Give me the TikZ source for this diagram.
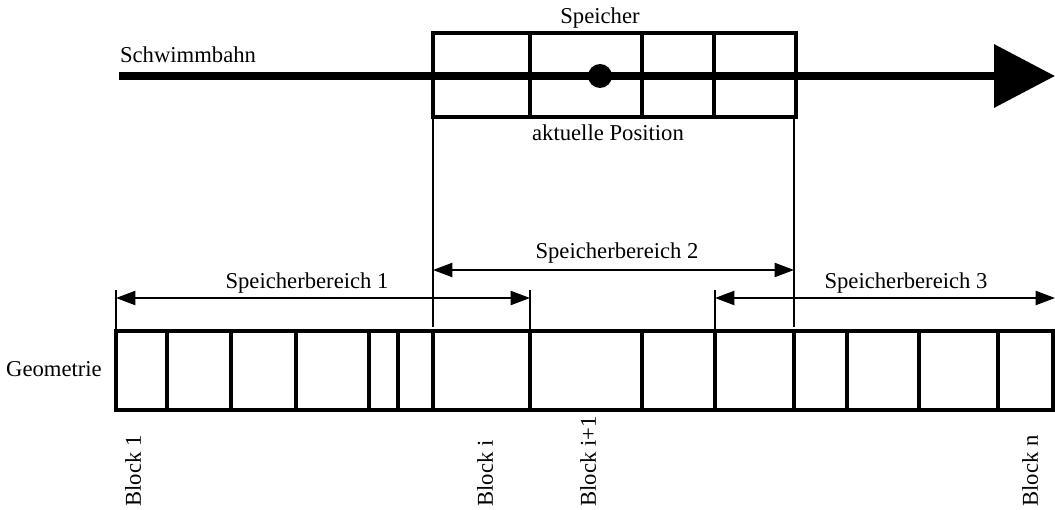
\documentclass[tikz,border=0pt]{standalone}
\usepackage{fontspec}
\setmainfont{Liberation Serif}
\usetikzlibrary{arrows.meta}

\begin{document}
\begin{tikzpicture}[x=0.02cm,y=-0.02cm,font=\fontsize{12.9}{15}\selectfont,
    thick box/.style={line width=2.3pt},
    thin line/.style={line width=1.1pt},
    dim/.style={thin line,{Triangle[length=11pt,width=8pt]}-{Triangle[length=11pt,width=8pt]}},
    blocklabel/.style={rotate=90,anchor=west,inner sep=0pt}]
  \useasboundingbox (0,0) rectangle (1055,510);
  % Schwimmbahn
  \coordinate (bahnA) at (119,76);
  \coordinate (bahnB) at (1055,76);
  \draw[line width=4.5pt,-{Triangle[length=34.6pt,width=35pt]}] (bahnA) -- (bahnB);
  \node (bahn) at (188,55) {Schwimmbahn};
  % Speicher
  \draw[thick box] (433,33) rectangle (796,117);
  \foreach \x in {530,642,714} {
    \draw[thick box] (\x,33) -- (\x,117);
  }
  \fill (600,76) circle (12);
  \node (speicher) at (600,18) {Speicher};
  \node (pos) at (608,133) {aktuelle Position};
  % Geometrie
  \draw[thick box] (116,331) rectangle (1053,410);
  \foreach \x in {167,231,296,369,398,433,530,642,715,794,847,919,998} {
    \draw[thick box] (\x,331) -- (\x,410);
  }
  \node[anchor=east] (geo) at (108,369) {Geometrie};
  % Hilfslinien
  \coordinate (s1a) at (116,298);
  \coordinate (s1b) at (530,298);
  \coordinate (s2a) at (433,270);
  \coordinate (s2b) at (794,270);
  \coordinate (s3a) at (715,298);
  \coordinate (s3b) at (1055,298);
  \draw[thin line] (116,290) -- (116,331);
  \draw[thin line] (530,290) -- (530,331);
  \draw[thin line] (715,290) -- (715,331);
  \draw[thin line] (433,117) -- (433,327);
  \draw[thin line] (794,117) -- (794,327);
  % Speicherbereiche
  \draw[dim] (s1a) -- (s1b);
  \draw[dim] (s2a) -- (s2b);
  \draw[dim] (s3a) -- (s3b);
  \node (sb1) at (307,283) {Speicherbereich 1};
  \node (sb2) at (617,253) {Speicherbereich 2};
  \node (sb3) at (906,283) {Speicherbereich 3};
  % Bloecke
  \foreach \x/\n in {133/1,485/i,588/i+1,1030/n} {
    \node[blocklabel] (block\n) at (\x,507) {Block \n};
  }
\end{tikzpicture}
\end{document}
